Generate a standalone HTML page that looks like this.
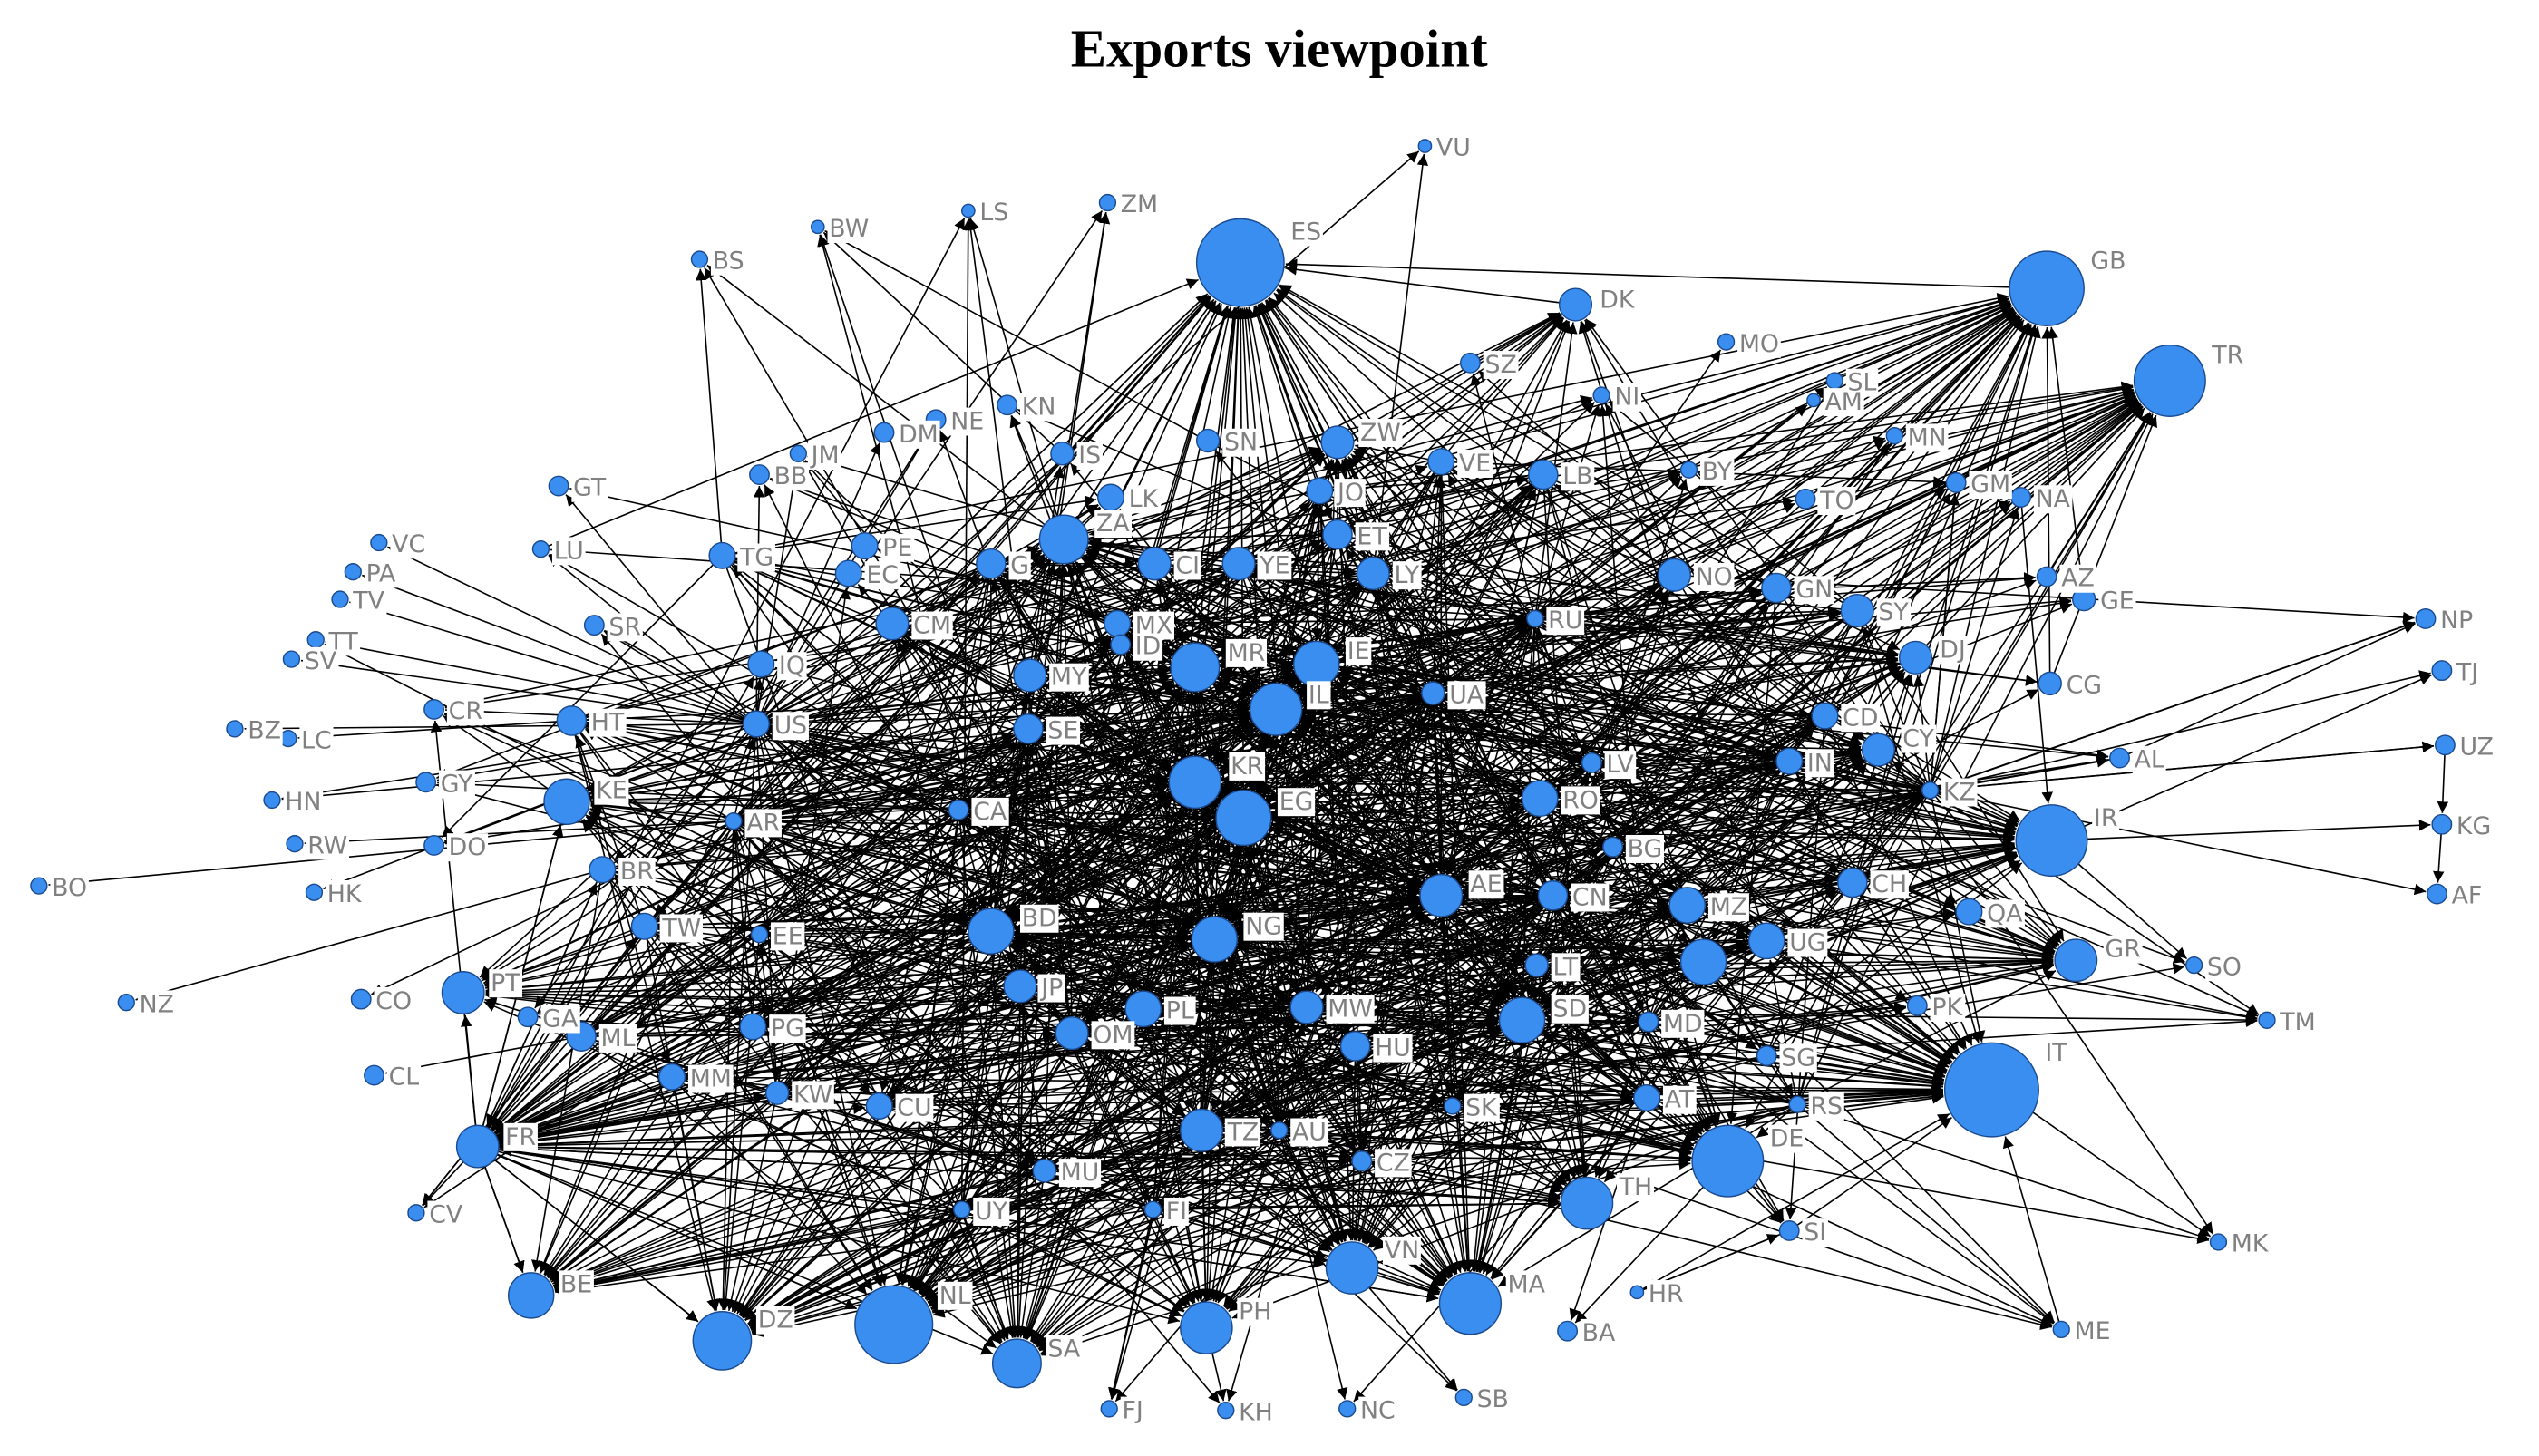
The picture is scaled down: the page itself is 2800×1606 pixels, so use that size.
<!DOCTYPE html>
<html><head><meta charset="utf-8"><style>
html,body{margin:0;padding:0;background:#fff;width:2800px;height:1606px;overflow:hidden}
svg{display:block}
.t{font-family:"Liberation Serif",serif;font-weight:bold;font-size:33px;fill:#000}
.l{font-family:"DejaVu Sans","Liberation Sans",sans-serif;font-size:15px;fill:#808080}
</style></head><body>
<svg id="s" width="2800" height="1606" viewBox="0 0 1568 899" xmlns="http://www.w3.org/2000/svg">
<defs><marker id="a" viewBox="0 0 10 10" refX="10" refY="5" markerWidth="7" markerHeight="7" markerUnits="userSpaceOnUse" orient="auto"><path d="M0,0L10,5L0,10z" fill="#000"/></marker></defs>
<text class="t" x="790" y="41" text-anchor="middle">Exports viewpoint</text>
<g id="e" stroke="#000" stroke-width="0.9" fill="none"></g>
<g id="n" fill="#3a8ef0" stroke="#1a4a90" stroke-width="0.8"></g>
<g id="lb">
<text class="l" x="797" y="148">ES</text><text class="l" x="1291" y="166">GB</text><text class="l" x="1366" y="224">TR</text>
<text class="l" x="1263" y="655">IT</text><text class="l" x="1093" y="708">DE</text><text class="l" x="1293" y="510">IR</text>
<text class="l" x="580" y="805">NL</text><text class="l" x="468" y="820">DZ</text><text class="l" x="647" y="838">SA</text>
<text class="l" x="765" y="815">PH</text><text class="l" x="931" y="798">MA</text><text class="l" x="855" y="777">VN</text>
<text class="l" x="1000" y="738">TH</text><text class="l" x="346" y="798">BE</text><text class="l" x="312" y="707">FR</text>
<text class="l" x="303" y="612">PT</text><text class="l" x="368" y="493">KE</text><text class="l" x="677" y="328">ZA</text>
<text class="l" x="790" y="500">EG</text><text class="l" x="760" y="478">KR</text><text class="l" x="808" y="434">IL</text>
<text class="l" x="832" y="407">IE</text><text class="l" x="758" y="408">MR</text><text class="l" x="769" y="577">NG</text>
<text class="l" x="631" y="572">BD</text><text class="l" x="908" y="551">AE</text><text class="l" x="959" y="628">SD</text>
<text class="l" x="1300" y="591">GR</text><text class="l" x="1175" y="461">CY</text><text class="l" x="1198" y="406">DJ</text>
<text class="l" x="840" y="272">ZW</text><text class="l" x="988" y="190">DK</text>
</g>
</svg>
<script>
var N=[["VU",880,90,4],["ZM",684,125,5],["LS",598,130,4],["BW",505,140,4],["BS",432,160,5],["MO",1066,211,5],["SZ",908,224,6],["NI",989,244,5],["SL",1133,235,5],["AM",1120,247,4],["KN",622,250,6],["NE",578,259,6],["DM",546,267,6],["JM",493,280,5],["BB",469,293,6],["IS",656,280,7],["SN",746,272,7],["LK",686,307,8],["MN",1170,269,5],["BY",1043,290,5],["GM",1208,298,6],["NA",1248,307,6],["TO",1115,308,6],["VE",890,285,8],["LB",953,293,9],["JO",815,303,8],["ET",826,330,9],["LY",848,354,10],["GT",345,300,6],["LU",334,339,5],["TG",446,343,8],["PE",534,337,8],["EC",524,354,8],["G",612,348,9],["CI",713,348,10],["YE",765,348,10],["VC",234,335,5],["PA",218,353,5],["TV",210,370,5],["TT",195,395,5],["SV",180,407,5],["SR",367,386,6],["IQ",470,410,8],["US",467,447,8],["CM",551,385,10],["MX",690,385,8],["ID",692,398,6],["MY",636,417,10],["SE",635,450,9],["NO",1034,355,10],["GN",1097,363,9],["SY",1147,377,10],["AZ",1264,356,6],["GE",1287,370,7],["RU",948,382,5],["UA",885,428,7],["CG",1266,422,7],["CD",1127,442,8],["IN",1105,470,8],["AL",1309,468,6],["KZ",1192,488,5],["LV",983,471,6],["RO",951,493,11],["CR",268,438,6],["HT",353,445,9],["BZ",145,450,5],["LC",178,456,5],["GY",263,483,6],["HN",168,494,5],["RW",182,521,5],["DO",268,522,6],["HK",194,551,5],["BO",24,547,5],["AR",453,507,5],["CA",592,500,6],["BR",372,537,8],["TW",398,572,8],["EE",469,577,5],["BG",996,523,6],["CN",959,553,9],["MZ",1042,559,11],["CH",1144,545,9],["QA",1216,563,8],["UG",1091,581,11],["",1052,594,14],["LT",949,596,7],["NZ",78,619,5],["CO",223,617,6],["GA",326,628,6],["ML",359,640,9],["PG",465,634,8],["JP",630,609,10],["OM",662,638,10],["PL",706,623,11],["MW",807,622,10],["HU",837,646,9],["MD",1018,631,6],["SG",1091,652,6],["PK",1184,621,6],["SO",1355,596,5],["TM",1400,630,5],["CL",231,664,6],["MM",415,665,8],["KW",480,675,7],["CU",543,683,8],["TZ",742,698,13],["AU",790,698,5],["SK",897,683,5],["AT",1017,678,8],["RS",1110,682,5],["CZ",841,717,6],["MU",645,723,7],["UY",594,747,5],["FI",712,747,5],["CV",257,749,5],["SI",1105,760,6],["MK",1370,767,5],["HR",1011,798,4],["BA",968,822,6],["ME",1273,821,5],["FJ",685,870,5],["KH",757,871,5],["NC",832,870,5],["SB",904,863,5],["NP",1498,382,6],["TJ",1508,414,6],["UZ",1510,460,6],["KG",1508,509,6],["AF",1505,552,6],
["ES",766,162,27],["GB",1264,178,23],["TR",1340,235,22],["IT",1230,673,29],["DE",1067,717,22],["IR",1267,519,22],["NL",552,818,24],["DZ",446,828,18],["SA",628,842,15],["PH",745,820,16],["MA",908,805,19],["VN",835,783,16],["TH",980,743,16],["BE",328,800,14],["FR",295,708,13],["PT",286,613,13],["KE",350,495,14],["ZA",657,333,15],["EG",768,505,17],["KR",738,483,16],["IL",788,438,16],["IE",813,410,14],["MR",738,412,15],["NG",750,580,14],["BD",612,575,14],["AE",890,553,13],["SD",940,630,14],["GR",1282,593,13],["CY",1160,463,10],["DJ",1183,406,10],["ZW",826,273,10],["DK",973,188,10]];
var M={};N.forEach(function(d,i){M[d[0]||("_"+i)]=d});
var ns="http://www.w3.org/2000/svg",E=document.getElementById("e"),G=document.getElementById("n"),L=document.getElementById("lb");
var big=["ES","GB","TR","IT","DE","IR","NL","DZ","SA","PH","MA","VN","TH","BE","FR","PT","KE","ZA","EG","KR","IL","IE","MR","NG","BD","AE","SD","GR","CY","DJ","ZW","DK"];
function line(a,b){var dx=b[1]-a[1],dy=b[2]-a[2],d=Math.sqrt(dx*dx+dy*dy);if(d<1)return;
var l=document.createElementNS(ns,"line");l.setAttribute("x1",a[1]+dx/d*a[3]);l.setAttribute("y1",a[2]+dy/d*a[3]);
l.setAttribute("x2",b[1]-dx/d*(b[3]+1));l.setAttribute("y2",b[2]-dy/d*(b[3]+1));l.setAttribute("marker-end","url(#a)");E.appendChild(l);}
var seed=7;function r(){seed=(seed*16807)%2147483647;return seed/2147483647;}
var hubs=["US","RU","UA","CA","AR","FR","TZ","AU","KZ","CN","RO","AE","BR","TW","EE","LT","SK","RS","AT","CZ","MW","PL","IN","CD","MY","SE","EG","KR","NG","BD","JP","OM","HU","SG","MD","CH","MZ","UG","BG","LV","NO","GN","SY","MX","CM","ZA","IL","IE","MR","CI","YE","G","LY","ET","JO","VE","LB","TG","HT","ML","MM","PG","KW","CU","MU","UY","FI"];
// hub to hub & hub to big
hubs.forEach(function(h,i){var a=M[h];var w=i<10?0.55:0.22;
 N.forEach(function(b){if(b===a)return;var isBig=big.indexOf(b[0])>=0;var p=(isBig?w*1.6:w*0.35)*(b[3]/14);
  var dx=b[1]-a[1],dy=b[2]-a[2];if(Math.sqrt(dx*dx+dy*dy)>900)p*=0.3;
  if(b[1]<240||b[1]>1450)p*=0.05; if(r()<p)line(a,b);});});
// periphery
var per={VC:"US",PA:"US",TV:"US",TT:"US",SV:"US",BZ:"US",LC:"HT",CR:"US",GY:"US",HN:"US",RW:"AR",DO:"US",HK:"US",BO:"AR",NZ:"BR",CO:"AR",CL:"ML",CV:"FR",GT:"US",LU:"US",SR:"US",BS:"ZA",BW:"IS",LS:"ZA",ZM:"US",VU:"LY",MO:"RU",SZ:"RU",NI:"RU",SL:"RU",AM:"RU",MN:"RU",BY:"RU",GM:"KZ",NA:"KZ",TO:"RU",NP:"KZ",TJ:"KZ",UZ:"KZ",KG:"UZ",AF:"KG",SO:"IR",TM:"KZ",MK:"RS",ME:"RS",SI:"HR",BA:"DE",FJ:"FI",KH:"PH",NC:"AU",SB:"VN",HR:"SI",KN:"ZA",NE:"US",DM:"US",JM:"US",BB:"US"};
for(var k in per){line(M[per[k]],M[k]);}
[["AL","KZ"],["AL","NP"],["KZ","UZ"],["KZ","IR"],["KZ","AF"],["IR","TJ"],["IR","KG"],["FR","BE"],["FR","DZ"],["FR","NL"],["FR","PT"],["FR","KE"],["FR","VN"],["FR","TH"],["FR","MA"],["FR","IT"],["US","ES"],["LU","ES"],["GB","ES"],["DK","ES"],["SZ","DK"],["CG","TR"],["AZ","TR"],["GE","GB"],["NA","IR"],["CG","GB"],["SI","IT"],["HR","IT"],["ME","IT"]].forEach(function(p){line(M[p[0]],M[p[1]]);});
// nodes
N.forEach(function(d){var c=document.createElementNS(ns,"circle");c.setAttribute("cx",d[1]);c.setAttribute("cy",d[2]);c.setAttribute("r",d[3]);G.appendChild(c);
 if(d[0]&&big.indexOf(d[0])<0){var t=document.createElementNS(ns,"text");t.setAttribute("class","l");t.setAttribute("x",d[1]+d[3]+3);t.setAttribute("y",d[2]+6);t.textContent=d[0];L.appendChild(t);}});
// white boxes behind labels
Array.prototype.forEach.call(L.querySelectorAll("text"),function(t){var b=t.getBBox();var rc=document.createElementNS(ns,"rect");rc.setAttribute("x",b.x-1);rc.setAttribute("y",b.y);rc.setAttribute("width",b.width+2);rc.setAttribute("height",b.height);rc.setAttribute("fill","#fff");L.insertBefore(rc,L.firstChild);});
</script>
</body></html>
